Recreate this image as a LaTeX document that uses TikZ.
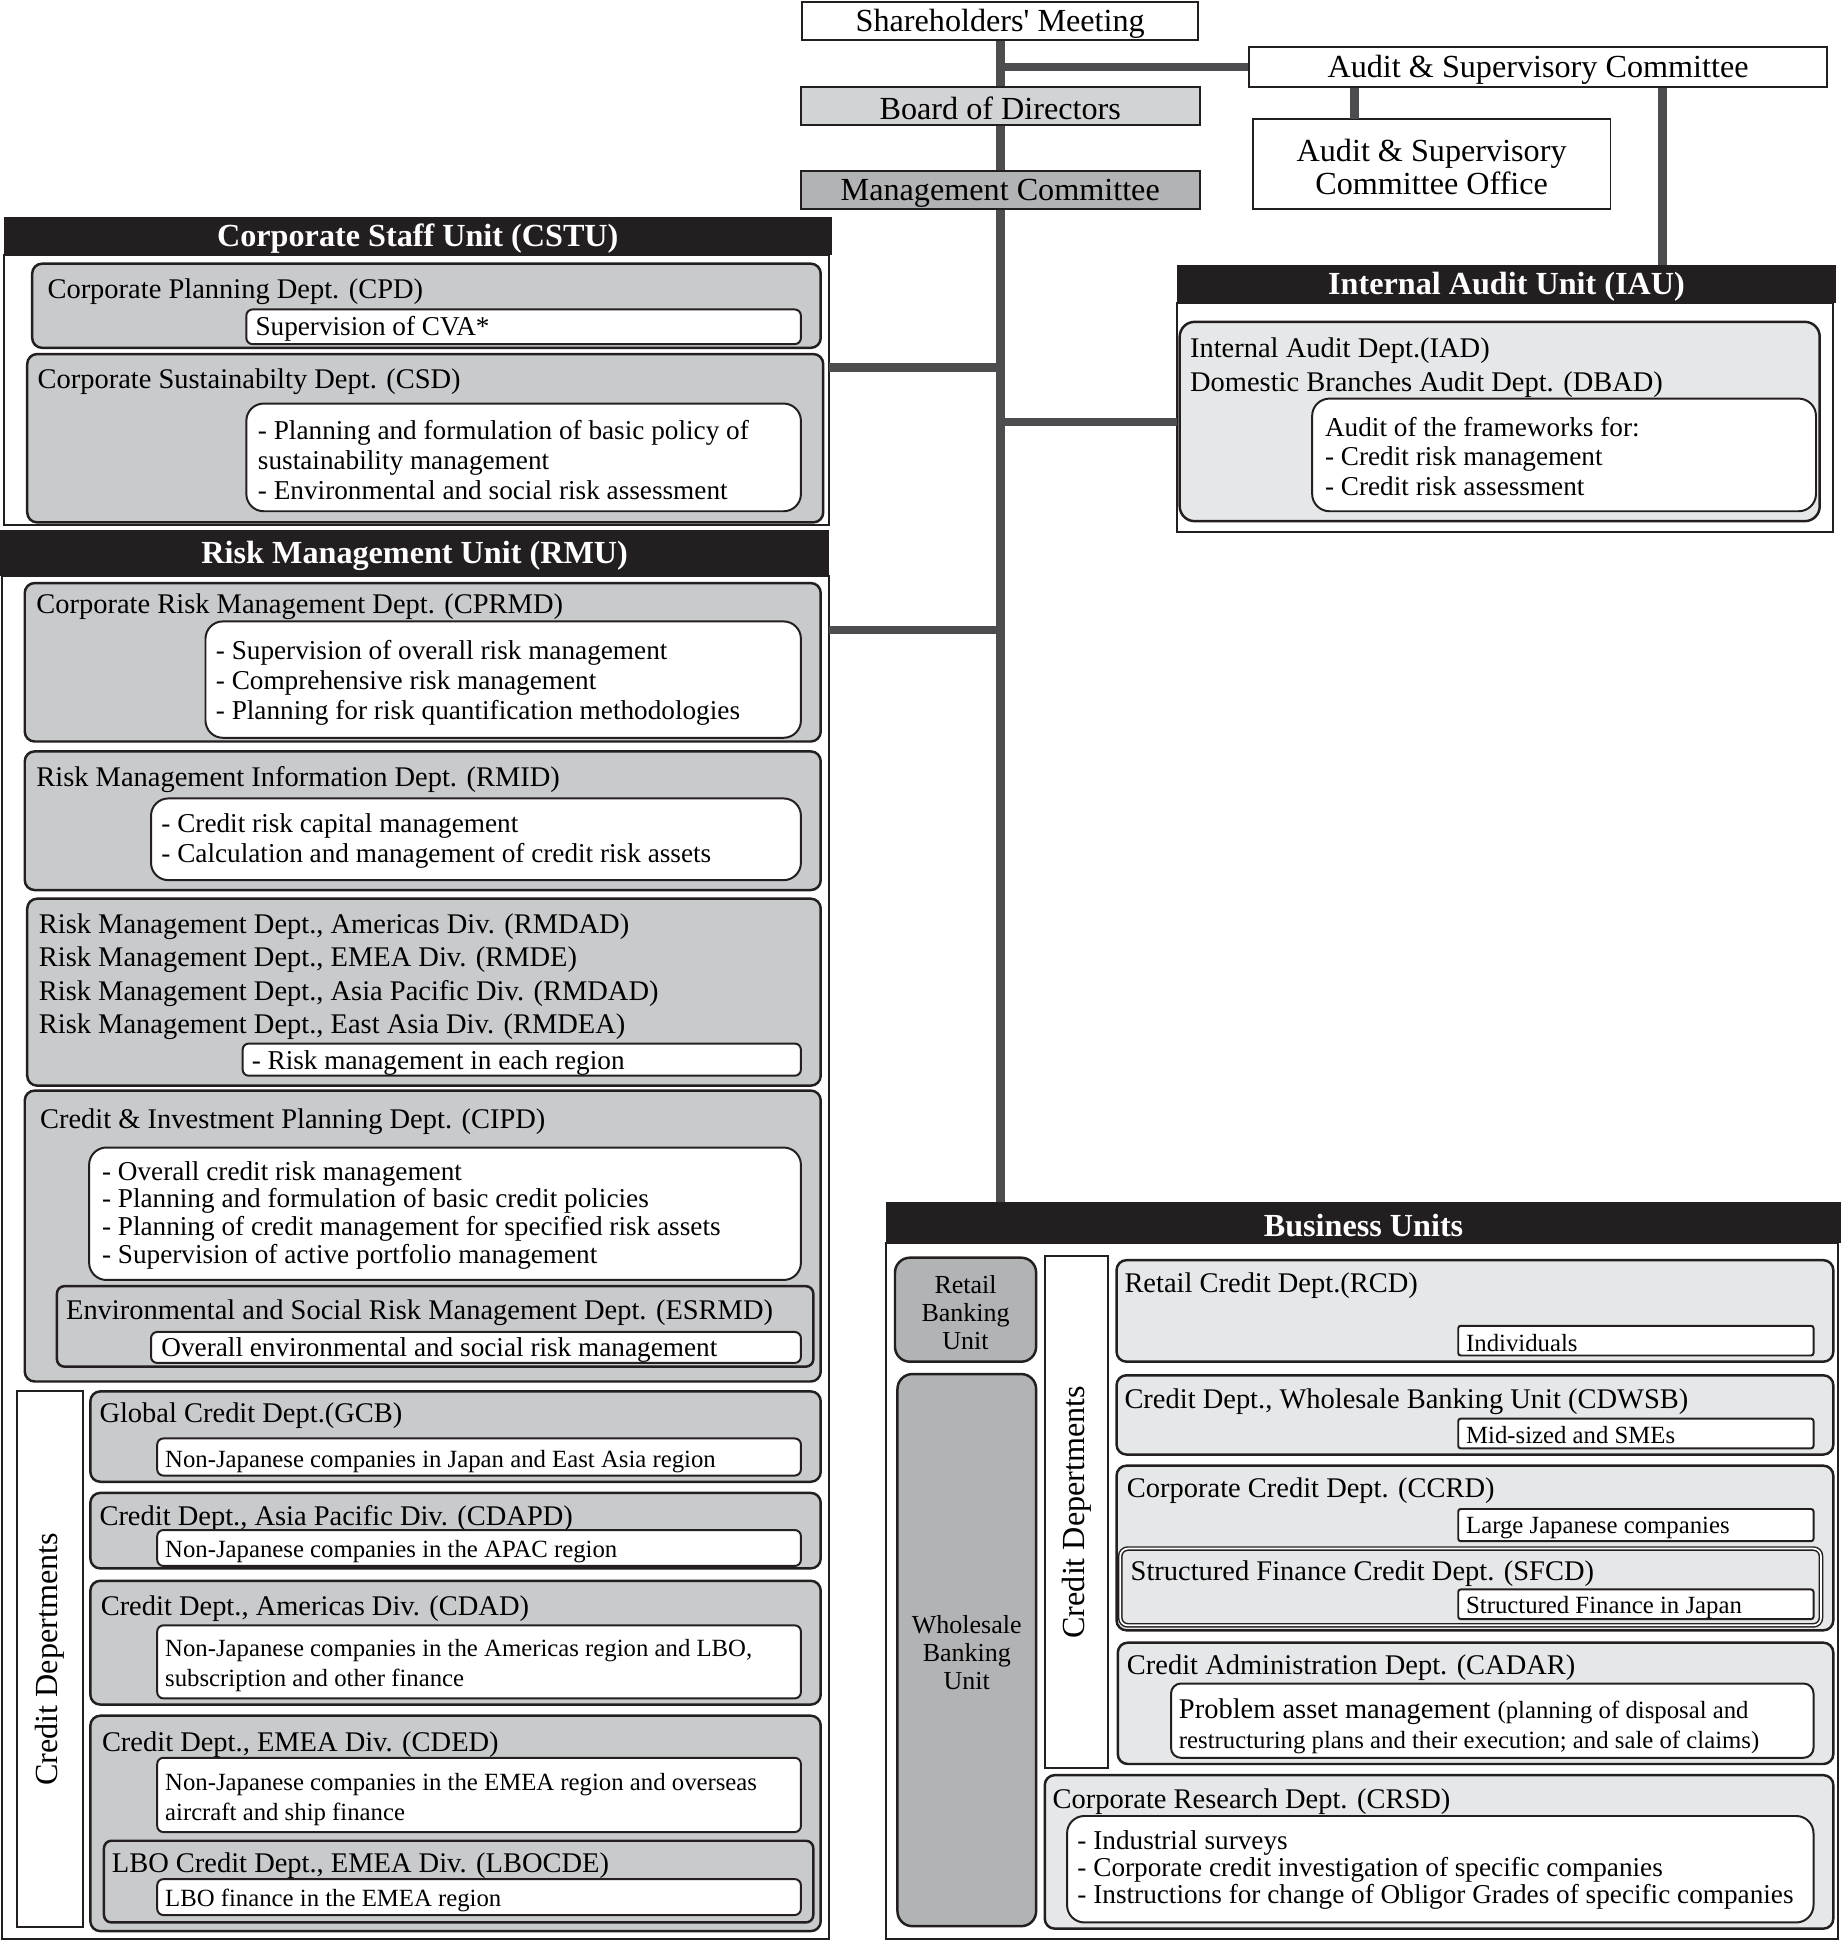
\documentclass[tikz,border=0pt]{standalone}
\usepackage{fontspec}
\setmainfont{Liberation Serif}
\usetikzlibrary{positioning}
\usetikzlibrary{fit}
\definecolor{barblack}{HTML}{231F20}
\definecolor{linegray}{HTML}{4D4D4F}
\definecolor{deptgray}{HTML}{C9CACC}
\definecolor{palegray}{HTML}{E6E7E8}
\definecolor{boardgray}{HTML}{D2D3D5}
\definecolor{midgray}{HTML}{B2B3B5}
\begin{document}
\begin{tikzpicture}[x=0.5pt, y=-0.5pt,
	box/.style={inner sep=0pt, line width=0.8pt, draw=barblack},
	toptext/.style={inner sep=0pt, yshift=-1.2pt, align=center, font=\fontsize{13}{13.5}\selectfont},
	unitbar/.style={inner sep=0pt, fill=barblack},
	unittext/.style={inner sep=0pt, yshift=-1.2pt, text=white, font=\bfseries\fontsize{13}{15}\selectfont},
	frame/.style={box, fill=white},
	deptbox/.style={box, line width=1pt, fill=deptgray, rounded corners=4pt},
	palebox/.style={deptbox, fill=palegray},
	bankbox/.style={deptbox, fill=midgray, rounded corners=6pt},
	banktext/.style={inner sep=0pt, yshift=-1pt, align=center, font=\fontsize{10.5}{11.3}\selectfont},
	notebox/.style={box, fill=white, rounded corners=2.5pt},
	notebig/.style={notebox, rounded corners=7pt},
	notesq/.style={notebox, rounded corners=1pt},
	title/.style={anchor=west, inner sep=0pt, yshift=-1.2pt, align=left, font=\fontsize{11.5}{13.5}\selectfont},
	body/.style={anchor=west, inner sep=0pt, yshift=-0.8pt, align=left, font=\fontsize{11}{12}\selectfont},
	small/.style={body, font=\fontsize{10}{12}\selectfont},
	sideword/.style={rotate=90, inner sep=0pt, font=\fontsize{13}{15}\selectfont},
	conn/.style={draw=linegray, line width=3.5pt}]
	% top of the chart
	\node[box, fit={(648,2) (968,32)}] (share) {};
	\node[toptext] (sharetext) at (share.center) {Shareholders\textquotesingle\ Meeting};
	\node[box, fill=boardgray, fit={(647,70) (969,101)}] (board) {};
	\node[toptext] (boardtext) at (board.center) {Board of Directors};
	\node[box, fill=midgray, fit={(647,138) (969,169)}] (mgmt) {};
	\node[toptext] (mgmttext) at (mgmt.center) {Management Committee};
	\node[box, fit={(1009,38) (1476,70)}] (audit) {};
	\node[toptext] (audittext) at (audit.center) {Audit \& Supervisory Committee};
	\node[box, fit={(1012,96) (1301,169)}] (office) {};
	\node[toptext] (officetext) at (office.center) {Audit \& Supervisory\\Committee Office};
	% corporate staff unit
	\node[unitbar, fit={(3,175) (672,206)}] (cstu) {};
	\node[unittext] (cstutext) at (cstu.center) {Corporate Staff Unit (CSTU)};
	\node[frame, fit={(3,206) (670,424)}] (cstuframe) {};
	\node[deptbox, fit={(26,213) (663,281)}] (cpd) {};
	\node[title] (cpdtitle) at (38,233) {Corporate Planning Dept. (CPD)};
	\node[notebox, fit={(199,250) (647,278)}] (cpdnote) {};
	\node[body] (cpdtext) at (206,264) {Supervision of CVA*};
	\node[deptbox, fit={(22,286) (665,422)}] (csd) {};
	\node[title] (csdtitle) at (30,306) {Corporate Sustainabilty Dept. (CSD)};
	\node[notebig, fit={(199,326) (647,413)}] (csdnote) {};
	\node[body] (csdtext) at (208,370) {- Planning and formulation of basic policy of\\sustainability management\\- Environmental and social risk assessment};
	% risk management unit
	\node[unitbar, fit={(0,428) (670,465)}] (rmu) {};
	\node[unittext] (rmutext) at (rmu.center) {Risk Management Unit (RMU)};
	\node[frame, fit={(2,465) (670,1566)}] (rmuframe) {};
	\node[deptbox, fit={(20,471) (663,599)}] (cprmd) {};
	\node[title] (cprmdtitle) at (29,488) {Corporate Risk Management Dept. (CPRMD)};
	\node[notebig, fit={(166,502) (647,596)}] (cprmdnote) {};
	\node[body] (cprmdtext) at (174,550) {- Supervision of overall risk management\\- Comprehensive risk management\\- Planning for risk quantification methodologies};
	\node[deptbox, fit={(20,607) (663,719)}] (rmid) {};
	\node[title] (rmidtitle) at (29,627) {Risk Management Information Dept. (RMID)};
	\node[notebig, fit={(122,645) (647,711)}] (rmidnote) {};
	\node[body] (rmidtext) at (130,678) {- Credit risk capital management\\- Calculation and management of credit risk assets};
	\node[deptbox, fit={(22,726) (663,877)}] (rmd) {};
	\node[title] (rmdtitle) at (31,786.5) {Risk Management Dept., Americas Div. (RMDAD)\\Risk Management Dept., EMEA Div. (RMDE)\\Risk Management Dept., Asia Pacific Div. (RMDAD)\\Risk Management Dept., East Asia Div. (RMDEA)};
	\node[notebox, fit={(196,843) (647,869)}] (rmdnote) {};
	\node[body] (rmdtext) at (203,857) {- Risk management in each region};
	\node[deptbox, fit={(20,881) (663,1116)}] (cipd) {};
	\node[title] (cipdtitle) at (32,904) {Credit \& Investment Planning Dept. (CIPD)};
	\node[notebig, fit={(72,927) (647,1034)}] (cipdnote) {};
	\node[body, font=\fontsize{11}{11.2}\selectfont] (cipdtext) at (82,980) {- Overall credit risk management\\- Planning and formulation of basic credit policies\\- Planning of credit management for specified risk assets\\- Supervision of active portfolio management};
	\node[deptbox, rounded corners=3pt, fit={(46,1039) (657,1104)}] (esrmd) {};
	\node[title] (esrmdtitle) at (53,1058) {Environmental and Social Risk Management Dept. (ESRMD)};
	\node[notebox, fit={(122,1076) (647,1101)}] (esrmdnote) {};
	\node[body] (esrmdtext) at (130,1089) {Overall environmental and social risk management};
	\node[frame, fit={(14,1124) (67,1557)}] (rmucredit) {};
	\node[sideword] (rmucreditword) at (rmucredit.center) {Credit Depertments};
	\node[deptbox, fit={(73,1124) (663,1197)}] (gcb) {};
	\node[title] (gcbtitle) at (80,1141) {Global Credit Dept.(GCB)};
	\node[notebox, fit={(127,1162) (647,1192)}] (gcbnote) {};
	\node[small] (gcbtext) at (133,1179) {Non-Japanese companies in Japan and East Asia region};
	\node[deptbox, fit={(73,1206) (663,1267)}] (cdapd) {};
	\node[title] (cdapdtitle) at (80,1224) {Credit Dept., Asia Pacific Div. (CDAPD)};
	\node[notebox, fit={(127,1236) (647,1265)}] (cdapdnote) {};
	\node[small] (cdapdtext) at (133,1252) {Non-Japanese companies in the APAC region};
	\node[deptbox, fit={(73,1277) (663,1377)}] (cdad) {};
	\node[title] (cdadtitle) at (81,1297) {Credit Dept., Americas Div. (CDAD)};
	\node[notebox, fit={(127,1313) (647,1372)}] (cdadnote) {};
	\node[small] (cdadtext) at (133,1344) {Non-Japanese companies in the Americas region and LBO,\\subscription and other finance};
	\node[deptbox, fit={(73,1386) (663,1560)}] (cded) {};
	\node[title] (cdedtitle) at (82,1407) {Credit Dept., EMEA Div. (CDED)};
	\node[notebox, fit={(127,1420) (647,1480)}] (cdednote) {};
	\node[small] (cdedtext) at (133,1452) {Non-Japanese companies in the EMEA region and overseas\\aircraft and ship finance};
	\node[deptbox, rounded corners=3pt, fit={(84,1487) (657,1553)}] (lbocde) {};
	\node[title] (lbocdetitle) at (90,1505) {LBO Credit Dept., EMEA Div. (LBOCDE)};
	\node[notebox, fit={(127,1518) (647,1547)}] (lbocdenote) {};
	\node[small] (lbocdetext) at (133,1534) {LBO finance in the EMEA region};
	% internal audit unit
	\node[unitbar, fit={(951,214) (1483,245)}] (iau) {};
	\node[unittext] (iautext) at (iau.center) {Internal Audit Unit (IAU)};
	\node[frame, fit={(951,245) (1481,430)}] (iauframe) {};
	\node[palebox, rounded corners=6pt, fit={(953,260) (1470,421)}] (iad) {};
	\node[title] (iadtitle) at (961,294.5) {Internal Audit Dept.(IAD)\\Domestic Branches Audit Dept. (DBAD)};
	\node[notebig, fit={(1060,322) (1467,413)}] (iadnote) {};
	\node[body] (iadtext) at (1070,367) {Audit of the frameworks for:\\- Credit risk management\\- Credit risk assessment};
	% business units
	\node[unitbar, fit={(716,971) (1487,1004)}] (buhead) {};
	\node[unittext] (buheadtext) at (buhead.center) {Business Units};
	\node[frame, fit={(716,1004) (1485,1566)}] (buframe) {};
	\node[bankbox, fit={(723,1016) (837,1100)}] (retail) {};
	\node[banktext] (retailtext) at (retail.center) {Retail\\Banking\\Unit};
	\node[bankbox, fit={(725,1110) (837,1556)}] (wholesale) {};
	\node[banktext] (wholesaletext) at (wholesale.center) {Wholesale\\Banking\\Unit};
	\node[frame, fit={(844,1015) (895,1428)}] (bucredit) {};
	\node[sideword] (bucreditword) at (bucredit.center) {Credit Depertments};
	\node[palebox, fit={(902,1018) (1481,1100)}] (rcd) {};
	\node[title] (rcdtitle) at (908,1036) {Retail Credit Dept.(RCD)};
	\node[notesq, fit={(1178,1071) (1465,1095)}] (rcdnote) {};
	\node[small] (rcdtext) at (1184,1083) {Individuals};
	\node[palebox, fit={(902,1111) (1481,1175)}] (cdwsb) {};
	\node[title] (cdwsbtitle) at (908,1130) {Credit Dept., Wholesale Banking Unit (CDWSB)};
	\node[notesq, fit={(1178,1146) (1465,1170)}] (cdwsbnote) {};
	\node[small] (cdwsbtext) at (1184,1158) {Mid-sized and SMEs};
	\node[palebox, fit={(902,1184) (1481,1317)}] (ccrd) {};
	\node[title] (ccrdtitle) at (910,1202) {Corporate Credit Dept. (CCRD)};
	\node[notesq, fit={(1178,1219) (1465,1245)}] (ccrdnote) {};
	\node[small] (ccrdtext) at (1184,1233) {Large Japanese companies};
	\node[palebox, line width=0.6pt, double, double distance=0.7pt, rounded corners=3pt, fit={(905,1251) (1471,1313)}] (sfcd) {};
	\node[title] (sfcdtitle) at (913,1269) {Structured Finance Credit Dept. (SFCD)};
	\node[notesq, fit={(1178,1284) (1465,1308)}] (sfcdnote) {};
	\node[small] (sfcdtext) at (1184,1297) {Structured Finance in Japan};
	\node[palebox, fit={(903,1327) (1481,1425)}] (cadar) {};
	\node[title] (cadartitle) at (910,1345) {Credit Administration Dept. (CADAR)};
	\node[notebox, rounded corners=4pt, fit={(946,1360) (1465,1420)}] (cadarnote) {};
	\node[body, font=\fontsize{11.5}{12}\selectfont] (cadartext) at (952,1393) {Problem asset management {\fontsize{10}{12}\selectfont(planning of disposal and}\\{\fontsize{10}{12}\selectfont restructuring plans and their execution; and sale of claims)}};
	\node[palebox, fit={(844,1434) (1481,1558)}] (crsd) {};
	\node[title] (crsdtitle) at (850,1453) {Corporate Research Dept. (CRSD)};
	\node[notebig, fit={(862,1467) (1465,1553)}] (crsdnote) {};
	\node[body, font=\fontsize{11}{11}\selectfont] (crsdtext) at (870,1509) {- Industrial surveys\\- Corporate credit investigation of specific companies\\- Instructions for change of Obligor Grades of specific companies};
	% connectors
	\coordinate (officejoin) at (1094,96);
	\coordinate (iaujoin) at (1343,214);
	\coordinate (cstujoin) at (670,297);
	\coordinate (iauleft) at (951,341);
	\coordinate (rmujoin) at (670,509);
	\draw[conn] (share.south) -- (board.north);
	\draw[conn] (board.south) -- (mgmt.north);
	\draw[conn] (mgmt.south) -- (mgmt.south |- buhead.north);
	\draw[conn] (audit.west) -- (audit.west -| share.south);
	\draw[conn] (officejoin) -- (officejoin |- audit.south);
	\draw[conn] (iaujoin) -- (iaujoin |- audit.south);
	\draw[conn] (cstujoin) -- (cstujoin -| mgmt.south);
	\draw[conn] (iauleft) -- (iauleft -| mgmt.south);
	\draw[conn] (rmujoin) -- (rmujoin -| mgmt.south);
	\useasboundingbox (0,0) rectangle (1487,1568);
\end{tikzpicture}
\end{document}
